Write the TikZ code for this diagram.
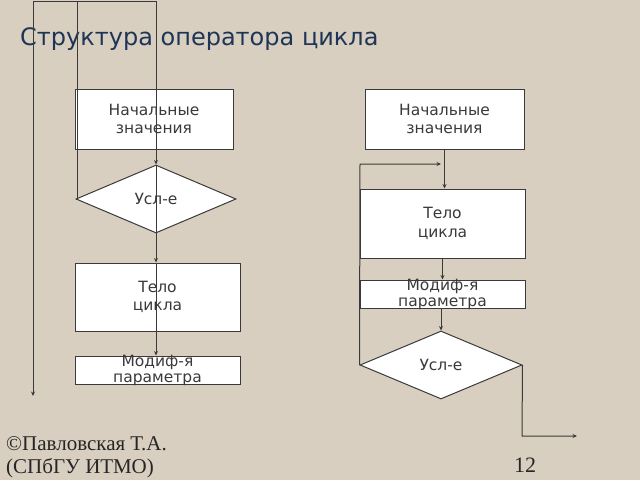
\documentclass[tikz,border=0pt]{standalone}
\usepackage{fontspec}
\setmainfont{Liberation Serif}
\newfontfamily\boxfont{DejaVu Sans}
\usetikzlibrary{shapes.geometric,arrows.meta}
\definecolor{bg}{HTML}{D8CFC0}
\definecolor{ln}{HTML}{3A3A3A}
\definecolor{titlec}{HTML}{1E3556}
\tikzset{
  blk/.style={draw=ln, line width=1pt, fill=white, inner sep=0pt, align=center,
    font=\boxfont\fontsize{15.5}{18.5}\selectfont, text=ln},
  dia/.style={blk, diamond, aspect=2.3},
  arr/.style={draw=ln, line width=1pt, -{Stealth[length=4.5pt,width=4pt]}},
  wire/.style={draw=ln, line width=1pt},
}
\newcommand{\modtext}{\smash{\raisebox{-4.5pt}{\begin{tabular}{@{}c@{}}Модиф-я\\[-3pt]параметра\end{tabular}}}}
\begin{document}
\begin{tikzpicture}[x=1pt,y=-1pt]
\fill[bg] (0,0) rectangle (640,480);
\useasboundingbox (0,0) rectangle (640,480);

\node[anchor=base west, inner sep=0pt, text=titlec, font=\boxfont\fontsize{24}{28}\selectfont] (title) at (20,45) {Структура оператора цикла};

% left scheme
\node[blk, minimum width=158pt, minimum height=60pt] (ln) at (154,119) {Начальные\\значения};
\node[dia, minimum width=160pt, minimum height=68pt] (ld) at (156,199) {Усл-е};
\node[blk, minimum width=165pt, minimum height=68pt] (lt) at (157.5,297) {Тело\\цикла};
\node[blk, minimum width=165pt, minimum height=28pt] (lm) at (157.5,370) {\modtext};

\coordinate (tA) at (33,1);
\coordinate (tB) at (77,1);
\coordinate (tC) at (156,1);
\coordinate (exitL) at (33,396);
\draw[wire] (tA) -- (tC);
\draw[arr] (tA) -- (exitL);
\draw[wire] (tB) -- (tB |- ld.west) -- (ld.west);
\draw[arr] (tC) -- (ld.north);
\draw[arr] (ld.north) -- (ld.north |- lt.north);
\draw[arr] (ld.north |- lt.north) -- (ld.north |- lm.north);

% right scheme
\node[blk, minimum width=159pt, minimum height=60pt] (rn) at (444.5,119) {Начальные\\значения};
\node[blk, minimum width=165pt, minimum height=69pt] (rt) at (442.5,223.5) {Тело\\цикла};
\node[blk, minimum width=165pt, minimum height=28pt] (rm) at (442.5,294) {\modtext};
\node[dia, minimum width=162pt, minimum height=68pt] (rd) at (441,365) {Усл-е};

\coordinate (loopTop) at (360,164);
\coordinate (loopEnd) at (441,164);
\coordinate (exitC) at (522,436);
\coordinate (exitR) at (577,436);
\draw[arr] (rn.south) -- (rn.south |- rt.north);
\draw[arr] (rt.south) -- (rm.north);
\draw[arr] (rd.north |- rm.south) -- (rd.north);
\draw[arr] (rd.west) -- (loopTop) -- (loopEnd);
\draw[arr] (rd.east) -- (exitC) -- (exitR);

% footer
\node[anchor=base west, inner sep=0pt, font=\fontsize{21}{25}\selectfont, text=black!85] (f1) at (6,450) {©Павловская Т.А.};
\node[anchor=base west, inner sep=0pt, font=\fontsize{21}{25}\selectfont, text=black!85] (f2) at (6,473) {(СПбГУ ИТМО)};
\node[anchor=base west, inner sep=0pt, font=\fontsize{22}{26}\selectfont, text=black!85] (pg) at (514,472) {12};
\end{tikzpicture}
\end{document}
